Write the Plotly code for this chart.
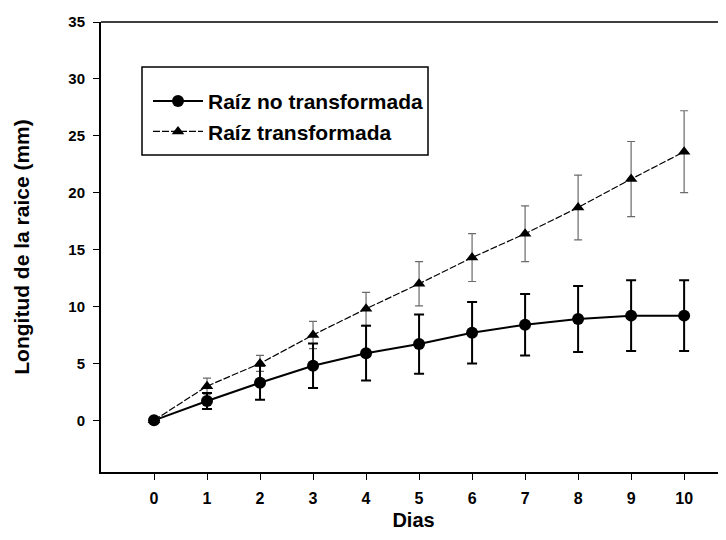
import plotly.graph_objects as go

dias = [0, 1, 2, 3, 4, 5, 6, 7, 8, 9, 10]
no_transf = [0, 1.7, 3.3, 4.8, 5.9, 6.7, 7.7, 8.4, 8.9, 9.2, 9.2]
no_transf_err = [0, 0.7, 1.5, 1.95, 2.4, 2.6, 2.7, 2.7, 2.9, 3.1, 3.1]
transf = [0, 3.0, 5.0, 7.5, 9.8, 12.0, 14.3, 16.4, 18.7, 21.2, 23.6]
transf_err = [0, 0.7, 0.7, 1.2, 1.45, 1.95, 2.1, 2.45, 2.85, 3.3, 3.6]
x_ticks = [0, 1, 2, 3, 4, 5, 6, 7, 8, 9, 10]
y_ticks = [0, 5, 10, 15, 20, 25, 30, 35]

FONT = "Liberation Sans, Arial, sans-serif"

fig = go.Figure()

fig.add_trace(go.Scatter(
    x=dias, y=transf, name="Raíz transformada", mode="lines+markers",
    line=dict(color="black", width=1.2, dash="7px,2px"),
    marker=dict(symbol="triangle-up", size=11, color="black"),
    error_y=dict(type="data", array=transf_err, visible=True,
                 color="#6a6a6a", thickness=1.2, width=4),
    legendrank=2, legendgroup="b",
))
fig.add_trace(go.Scatter(
    x=dias, y=no_transf, name="Raíz no transformada", mode="lines+markers",
    line=dict(color="black", width=2),
    marker=dict(symbol="circle", size=12, color="black"),
    error_y=dict(type="data", array=no_transf_err, visible=True,
                 color="black", thickness=2, width=5),
    legendrank=1, legendgroup="a",
))

fig.update_layout(
    width=718, height=532,
    margin=dict(l=93, r=0, t=14, b=68, autoexpand=False),
    paper_bgcolor="white", plot_bgcolor="white",
    font=dict(family=FONT, color="black"),
    showlegend=True,
    legend=dict(
        x=0.0752, y=0.869, xanchor="left", yanchor="top",
        bgcolor="rgba(0,0,0,0)", borderwidth=0,
        font=dict(family=FONT, size=21, weight="bold", color="black"),
        tracegroupgap=0, itemwidth=50,
    ),
    xaxis=dict(
        range=[-1.0, 10.79], tickvals=x_ticks, ticktext=[str(v) for v in x_ticks],
        showgrid=False, zeroline=False, showline=True, linecolor="black", linewidth=2,
        ticks="outside", ticklen=6, tickwidth=1, tickcolor="black",
        tickfont=dict(family=FONT, size=16, weight="bold"), ticklabelstandoff=5,
        title=dict(text="Dias", font=dict(family=FONT, size=20, weight="bold"), standoff=7),
        automargin=False,
    ),
    yaxis=dict(
        range=[-4.54, 35], tickvals=y_ticks, ticktext=[str(v) for v in y_ticks],
        showgrid=False, zeroline=False, showline=True, linecolor="black", linewidth=2,
        ticks="outside", ticklen=6, tickwidth=1, tickcolor="black",
        tickfont=dict(family=FONT, size=15, weight="bold"), ticklabelstandoff=5,
        title=dict(text="Longitud de la raice (mm)", font=dict(family=FONT, size=21, weight="bold"), standoff=33),
        automargin=False,
    ),
    shapes=[
        dict(type="line", xref="paper", yref="paper", x0=0, x1=1, y0=1, y1=1,
             line=dict(color="black", width=1.5)),
        dict(type="rect", xref="paper", yref="paper",
             x0=(142 - 101) / 625, x1=(428 - 101) / 625,
             y0=(472 - 155) / 450, y1=(472 - 67) / 450,
             line=dict(color="black", width=1.5), fillcolor="rgba(0,0,0,0)"),
    ],
)

fig.write_html("out.html")
